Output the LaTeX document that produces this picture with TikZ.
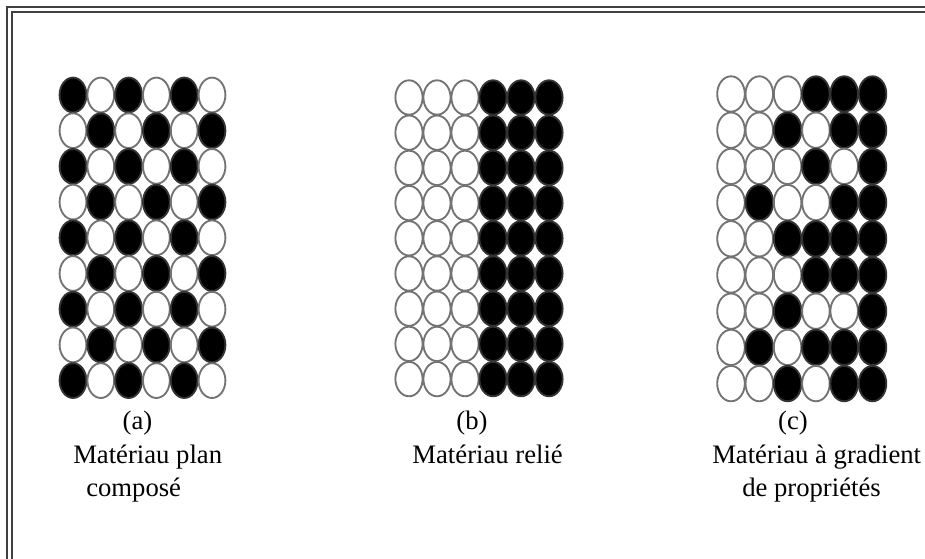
\documentclass[tikz,border=0pt]{standalone}
\usepackage{fontspec}
\setmainfont{Liberation Serif}
\usetikzlibrary{positioning}
\tikzset{
  cellblack/.style={fill=black, draw=black!80, line width=1.4pt},
  cellwhite/.style={fill=white, draw=black!55, line width=1.4pt},
  framel/.style={black!75, line width=1.5pt},
  lbl/.style={font=\fontsize{20}{24}\selectfont, inner sep=0pt},
}

\begin{document}
\begin{tikzpicture}[x=0.75pt,y=-0.75pt]
  \useasboundingbox (0,0) rectangle (925,559);

  % ---- cadre ----
  \draw[framel] (6.5,559) -- (6.5,7) -- (925,7);
  \draw[framel] (11.5,559) -- (11.5,12) -- (925,12);

  % ---- (a) plan compose ----
  \begin{scope}[shift={(73,95)}]
    \foreach \r in {0,...,8}
      \foreach \k in {0,...,5}{
        \pgfmathtruncatemacro\blk{mod(\r+\k+1,2)}
        \ifnum\blk=1 \draw[cellblack] (\k*27.8,\r*35.7) ellipse (13.4 and 17.4);
        \else \draw[cellwhite] (\k*27.8,\r*35.7) ellipse (13.4 and 17.4);
        \fi
      }
  \end{scope}

  % ---- (b) relie ----
  \begin{scope}[shift={(409,97.5)}]
    \foreach \r in {0,...,8}
      \foreach \k in {0,...,5}{
        \ifnum\k>2 \draw[cellblack] (\k*28,\r*35.2) ellipse (13.6 and 17.2);
        \else \draw[cellwhite] (\k*28,\r*35.2) ellipse (13.6 and 17.2);
        \fi
      }
  \end{scope}

  % ---- (c) gradient ----
  \begin{scope}[shift={(731,94)}]
    \foreach \pat [count=\r from 0] in {{0,0,0,1,1,1},{0,0,1,0,1,1},{0,0,0,1,0,1},
        {0,1,0,0,1,1},{0,0,1,1,1,1},{0,0,0,1,1,1},{0,0,1,0,0,1},{0,1,0,1,1,1},
        {0,0,1,0,1,1}}
      \foreach \c [count=\k from 0] in \pat {
        \ifnum\c=1 \draw[cellblack] (\k*28.3,\r*36.2) ellipse (13.8 and 17.7);
        \else \draw[cellwhite] (\k*28.3,\r*36.2) ellipse (13.8 and 17.7);
        \fi
      }
  \end{scope}

  % ---- legendes ----
  \node[lbl, anchor=base] (labA) at (137.5,430) {(a)};
  \node[lbl, anchor=base west] (nameA1) at (73,464) {Matériau plan};
  \node[lbl, anchor=base west] (nameA2) at (86,497) {composé};

  \node[lbl, anchor=base] (labB) at (472,430) {(b)};
  \node[lbl, anchor=base east] (nameB) at (563,464) {Matériau relié};

  \node[lbl, anchor=base] (labC) at (793,430) {(c)};
  \node[lbl, anchor=base west] (nameC1) at (712,464) {Matériau à gradient};
  \node[lbl, anchor=base west] (nameC2) at (742,497) {de propriétés};
\end{tikzpicture}
\end{document}
